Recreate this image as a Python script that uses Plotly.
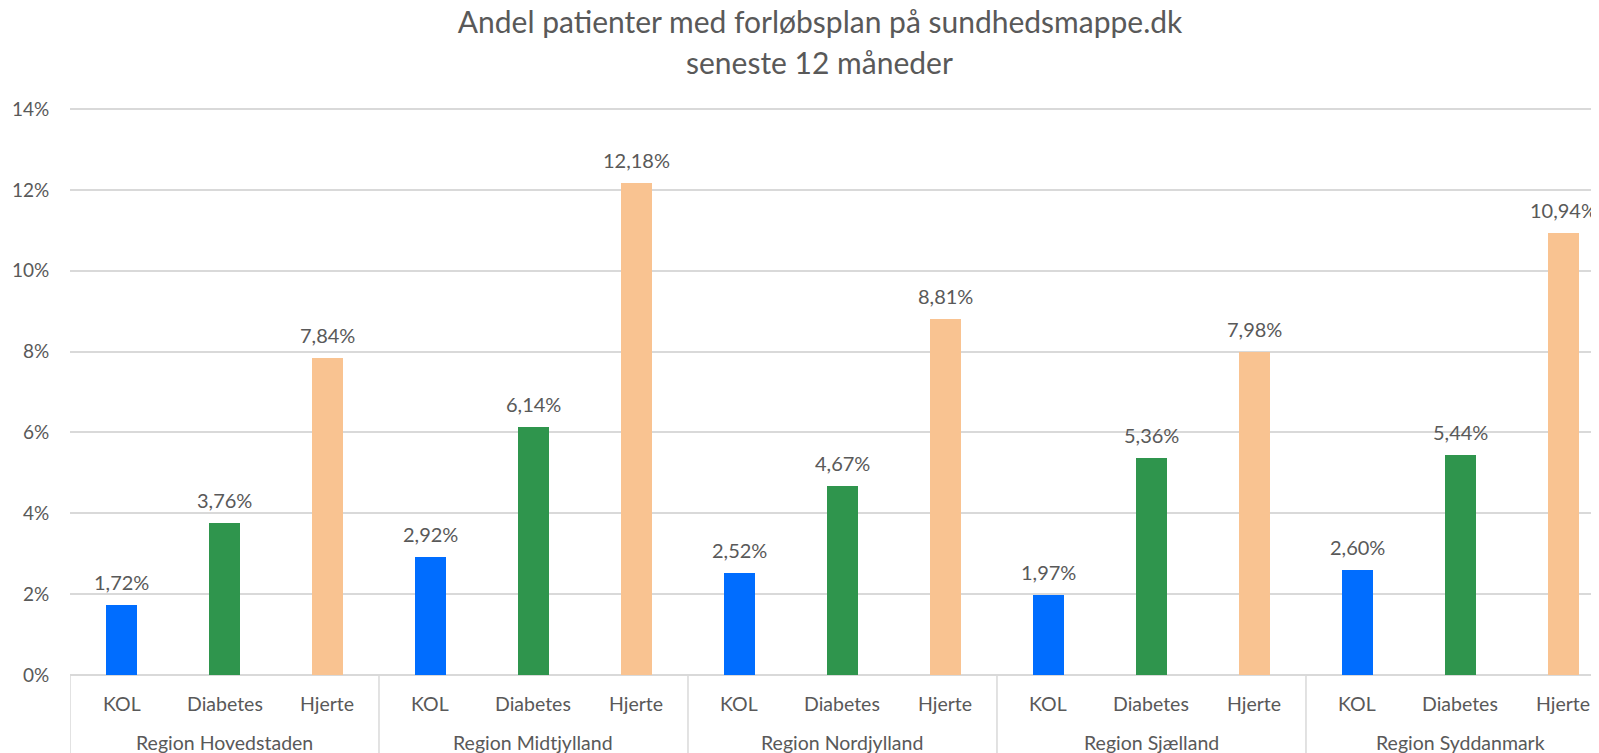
import plotly.graph_objects as go

regions = ["Region Hovedstaden", "Region Midtjylland", "Region Nordjylland",
           "Region Sjælland", "Region Syddanmark"]
diseases = ["KOL", "Diabetes", "Hjerte"]
kol = [1.72, 2.92, 2.52, 1.97, 2.60]
diabetes = [3.76, 6.14, 4.67, 5.36, 5.44]
hjerte = [7.84, 12.18, 8.81, 7.98, 10.94]
series = [kol, diabetes, hjerte]
colors = ["#006DFF", "#2F954D", "#F9C391"]
y_ticks = [0, 2, 4, 6, 8, 10, 12, 14]
title_line1 = "Andel patienter med forløbsplan på sundhedsmappe.dk"
title_line2 = "seneste 12 måneder"

FONT = "Lato"
GREY = "#595959"
GRID = "#D9D9D9"

n_d = len(diseases)
fig = go.Figure()
annotations = []
for j, (name, vals, col) in enumerate(zip(diseases, series, colors)):
    xs = [i * n_d + j for i in range(len(regions))]
    fig.add_trace(go.Bar(x=xs, y=vals, name=name, marker_color=col,
                         marker_line_width=0, width=0.30, showlegend=False))
    for x, v in zip(xs, vals):
        annotations.append(dict(x=x, y=v, xref="x", yref="y",
                                text=f"{v:.2f}%".replace(".", ","),
                                showarrow=False, yanchor="bottom", yshift=9,
                                font=dict(family=FONT, size=20, color=GREY)))

# category labels (first level) and region labels (second level)
for i, r in enumerate(regions):
    for j, d in enumerate(diseases):
        annotations.append(dict(x=i * n_d + j, y=0, xref="x", yref="paper",
                                text=d, showarrow=False, yanchor="middle",
                                yshift=-28,
                                font=dict(family=FONT, size=19.5, color=GREY)))
    annotations.append(dict(x=i * n_d + (n_d - 1) / 2, y=0, xref="x", yref="paper",
                            text=r, showarrow=False, yanchor="middle", yshift=-67,
                            font=dict(family=FONT, size=19.5, color=GREY)))

annotations.append(dict(x=0.4905, y=1.0682, xref="paper", yref="paper",
                        text=title_line2, showarrow=False, yanchor="middle",
                        xanchor="center",
                        font=dict(family=FONT, size=30, color=GREY)))

shapes = []
for i in range(len(regions) + 1):
    xb = i * n_d - 0.5
    shapes.append(dict(type="line", xref="x", yref="paper", x0=xb, x1=xb,
                       y0=0, y1=-0.2, line=dict(color=GRID, width=1.5)))

# the page body adds an 8px offset, so the figure is sized to the visible window
fig.update_layout(
    width=1591, height=745,
    paper_bgcolor="white", plot_bgcolor="white",
    margin=dict(l=62, r=0, t=93.4, b=78, autoexpand=False),
    title=dict(text=title_line1, x=0.5104, xanchor="center", xref="container",
               y=1 - 14.5 / 745, yanchor="middle", yref="container",
               font=dict(family=FONT, size=30, color=GREY)),
    barmode="overlay",
    bargap=0,
    annotations=annotations,
    shapes=shapes,
    xaxis=dict(range=[-0.5, 14.345], showticklabels=False, showgrid=False,
               zeroline=False, showline=False, ticks="", fixedrange=True,
               automargin=False),
    yaxis=dict(range=[0, 14.2], tickvals=y_ticks,
               ticktext=[f"{t}%" for t in y_ticks],
               showgrid=True, gridcolor=GRID, gridwidth=1.5,
               zeroline=True, zerolinecolor=GRID, zerolinewidth=1.5,
               showline=False, ticks="outside", ticklen=16,
               tickcolor="rgba(0,0,0,0)", automargin=False,
               tickfont=dict(family=FONT, size=19, color=GREY)),
    font=dict(family=FONT, color=GREY),
)
fig.write_html("out.html")
